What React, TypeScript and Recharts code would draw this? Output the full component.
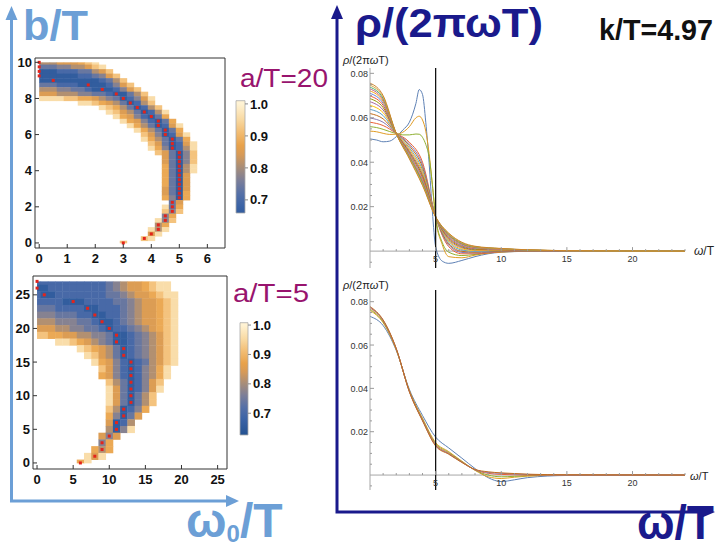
import React from 'react';
import {
  ScatterChart,
  Scatter,
  LineChart,
  Line,
  ComposedChart,
  XAxis,
  YAxis,
  ReferenceArea,
  ReferenceLine,
} from 'recharts';

const FONT = '"Liberation Sans", Arial, Helvetica, sans-serif';
const LIGHT_BLUE = '#6c9fd6';
const NAVY = '#1a1a8c';
const MAGENTA = '#98146e';

// fidelity value for each code digit used in the heatmap rows
const LEVELS = [0.66, 0.7, 0.74, 0.77, 0.81, 0.85, 0.88, 0.92, 0.96, 1.0];

// heatmap a/T=20: [b/T, first w0/T, codes per 0.25 step]
const MAP20_ROWS: [number, number, string][] = [
  [10, 0, '444555678'],
  [9.75, 0, '2223344578'],
  [9.5, 0, '00011122457'],
  [9.25, 0, '000000112357'],
  [9.0, 0, '0000000001247'],
  [8.75, 0, '22211100001357'],
  [8.5, 0, '444332210001357'],
  [8.25, 0, '5554443322100247'],
  [8.0, 0, '88887766543201358'],
  [7.75, 1.5, '88765420147'],
  [7.5, 2.25, '876420147'],
  [7.25, 2.5, '875420148'],
  [7.0, 2.75, '86531026'],
  [6.75, 3.0, '86531026'],
  [6.5, 3.25, '86420158'],
  [6.25, 3.5, '8642026'],
  [6.0, 3.75, '7530158'],
  [5.75, 3.75, '8642026'],
  [5.5, 4.0, '7520158'],
  [5.25, 4.0, '8630148'],
  [5.0, 4.25, '752037'],
  [4.75, 4.5, '52037'],
  [4.5, 4.5, '52037'],
  [4.25, 4.5, '62048'],
  [4.0, 4.5, '62048'],
  [3.75, 4.5, '6205'],
  [3.5, 4.5, '6205'],
  [3.25, 4.5, '6205'],
  [3.0, 4.5, '5205'],
  [2.75, 4.5, '5206'],
  [2.5, 4.5, '6306'],
  [2.25, 4.75, '25'],
  [2.0, 4.5, '826'],
  [1.75, 4.5, '737'],
  [1.5, 4.5, '36'],
  [1.25, 4.25, '837'],
  [1.0, 4.25, '46'],
  [0.75, 4.0, '848'],
  [0.5, 4.0, '58'],
  [0.25, 3.75, '78'],
  [0, 3.0, '7'],
];

const MAP20_PEAKS: [number, number][] = [
  [0, 10], [0, 9.75], [0, 9.5], [0, 9.25], [0.5, 9], [1.75, 8.75], [2.25, 8.5],
  [2.75, 8.25], [3, 8], [3.25, 7.75], [3.5, 7.5], [3.75, 7.25], [4, 7], [4.25, 6.75],
  [4.25, 6.5], [4.5, 6.25], [4.5, 6], [4.75, 5.75], [4.75, 5.5], [4.75, 5.25], [5, 5],
  [5, 4.75], [5, 4.5], [5, 4.25], [5, 4], [5, 3.75], [5, 3.5], [5, 3.25], [5, 3],
  [5, 2.75], [5, 2.5], [4.75, 2.25], [4.75, 2], [4.75, 1.75], [4.5, 1.5], [4.5, 1.25],
  [4.25, 1], [4.25, 0.75], [4, 0.5], [3.75, 0.25], [3, 0],
];

// heatmap a/T=5: [b/T, first w0/T, codes per 1.0 step]
const MAP5_ROWS: [number, number, string][] = [
  [27, 0, '1111111111234556788'],
  [26, 0, '0011111111234556788'],
  [25, 0, '10011111112234556788'],
  [24, 0, '11110001111223455678'],
  [23, 0, '22211110011123455678'],
  [22, 0, '33322211001123455678'],
  [21, 0, '44433322100123455678'],
  [20, 0, '55544332210112345678'],
  [19, 0, '77665544332001234578'],
  [18, 3, '88765432001234578'],
  [17, 6, '87654201234578'],
  [16, 7, '8754201234578'],
  [15, 8, '865310124578'],
  [14, 9, '7531013468'],
  [13, 9, '6531013468'],
  [12, 10, '74201357'],
  [11, 10, '85201358'],
  [10, 10, '8520247'],
  [9, 10, '8520247'],
  [8, 10, '740136'],
  [7, 10, '63025'],
  [6, 10, '5014'],
  [5, 10, '4038'],
  [4, 9, '535'],
  [3, 9, '36'],
  [2, 8, '646'],
  [1, 7, '858'],
  [0, 6, '68'],
];

const MAP5_PEAKS: [number, number][] = [
  [0, 27], [0, 26], [1, 25], [5, 24], [7, 23], [8, 22], [9, 21], [10, 20], [11, 19],
  [11, 18], [12, 17], [12, 16], [13, 15], [13, 14], [13, 13], [13, 12], [13, 11],
  [13, 10], [13, 9], [12, 8], [12, 7], [11, 6], [11, 5], [10, 4], [9, 3], [9, 2],
  [8, 1], [6, 0],
];

// colour scale of the density plots
const COLOR_STOPS: [number, string][] = [
  [0.62, '#21508f'],
  [0.68, '#3b63a6'],
  [0.72, '#5570a7'],
  [0.76, '#7b7e99'],
  [0.8, '#a68d7a'],
  [0.84, '#d69a58'],
  [0.87, '#e8a24b'],
  [0.91, '#f2bc72'],
  [0.95, '#f8d8a0'],
  [1.0, '#fff3d4'],
];

// spectral functions, k/T = 4.97
const X_SHARP = [0, 0.5, 1, 1.5, 2, 2.5, 3, 3.5, 3.75, 4, 4.25, 4.5, 4.75, 5, 5.5, 6, 7, 8, 9, 10, 12, 15, 24];
const TOP_BLUE = [0.0505, 0.05, 0.0492, 0.0495, 0.0515, 0.0545, 0.058, 0.0665, 0.0727, 0.0705, 0.058, 0.04, 0.018, 0.002, -0.0045, -0.0055, -0.0042, -0.0025, -0.0012, -0.0005, -0.0001, 0, 0];
const TOP_ORANGE = [0.054, 0.0537, 0.053, 0.0525, 0.0526, 0.0535, 0.056, 0.06, 0.0607, 0.059, 0.054, 0.044, 0.03, 0.015, 0.003, -0.0025, -0.003, -0.0018, -0.0009, -0.0004, -0.0001, 0, 0];
const TOP_GREEN = [0.056, 0.0556, 0.0548, 0.0538, 0.0529, 0.0523, 0.0523, 0.0527, 0.0526, 0.0512, 0.048, 0.0425, 0.03, 0.0155, 0.004, -0.0005, -0.002, -0.0015, -0.0008, -0.0003, 0, 0, 0];

const X_SMOOTH = [0, 1, 2, 3, 4, 5, 6, 7, 8, 10, 12, 15, 24];
const TOP_SMOOTH = [
  [0.058, 0.0565, 0.053, 0.049, 0.04, 0.0155, 0.002, -0.0012, -0.0012, -0.0003, 0, 0, 0],
  [0.0599, 0.058, 0.053, 0.0482, 0.0388, 0.0155, 0.0027, -0.0006, -0.0008, -0.0001, 0.0001, 0, 0],
  [0.0619, 0.0595, 0.053, 0.0474, 0.0377, 0.0155, 0.0033, -0.0001, -0.0005, 0, 0.0001, 0, 0],
  [0.0638, 0.061, 0.053, 0.0465, 0.0365, 0.0155, 0.004, 0.0005, -0.0001, 0.0002, 0.0002, 0.0001, 0],
  [0.0656, 0.0623, 0.053, 0.0458, 0.0355, 0.0155, 0.0046, 0.001, 0.0003, 0.0003, 0.0003, 0.0001, 0],
  [0.0672, 0.0635, 0.053, 0.0451, 0.0345, 0.0155, 0.0052, 0.0015, 0.0006, 0.0005, 0.0003, 0.0001, 0],
  [0.0686, 0.0646, 0.053, 0.0445, 0.0337, 0.0155, 0.0057, 0.0019, 0.0008, 0.0006, 0.0004, 0.0001, 0],
  [0.0698, 0.0656, 0.053, 0.044, 0.033, 0.0155, 0.0061, 0.0023, 0.0011, 0.0007, 0.0004, 0.0001, 0],
  [0.071, 0.0665, 0.0529, 0.0435, 0.0322, 0.0154, 0.0065, 0.0026, 0.0013, 0.0008, 0.0004, 0.0001, 0],
  [0.0721, 0.0673, 0.0529, 0.043, 0.0316, 0.0154, 0.0069, 0.003, 0.0015, 0.0009, 0.0005, 0.0002, 0],
  [0.073, 0.068, 0.0529, 0.0426, 0.0311, 0.0154, 0.0072, 0.0032, 0.0017, 0.001, 0.0005, 0.0002, 0],
  [0.0738, 0.0687, 0.0529, 0.0423, 0.0306, 0.0154, 0.0075, 0.0035, 0.0019, 0.0011, 0.0005, 0.0002, 0],
  [0.0747, 0.0693, 0.0529, 0.0419, 0.03, 0.0154, 0.0078, 0.0037, 0.002, 0.0011, 0.0006, 0.0002, 0],
  [0.0756, 0.07, 0.0529, 0.0415, 0.0295, 0.0154, 0.0081, 0.004, 0.0022, 0.0012, 0.0006, 0.0002, 0],
];
const TOP_SMOOTH_COLORS = [
  '#EB6235', '#8778B3', '#C56E1A', '#5D9EC7', '#FFBF00', '#A5609D', '#929600',
  '#E95536', '#6685D9', '#F89F13', '#BC5B80', '#47B66D', '#D9A33A', '#CB842C',
];

const X_BOTTOM = [0, 1, 2, 3, 4, 5, 6, 7, 8, 9, 10, 11, 12, 15, 24];
const BOTTOM_SERIES = [
  [0.0732, 0.069, 0.0575, 0.0395, 0.0275, 0.0175, 0.0125, 0.0078, 0.003, -0.0012, -0.003, -0.0022, -0.0012, -0.0002, 0],
  [0.076, 0.0703, 0.0578, 0.039, 0.0262, 0.015, 0.0108, 0.0064, 0.0022, -0.0008, -0.0016, -0.001, -0.0005, 0, 0],
  [0.0765, 0.0707, 0.058, 0.0388, 0.0258, 0.0145, 0.0104, 0.0062, 0.0023, 0, -0.0008, -0.0006, -0.0003, 0, 0],
  [0.0772, 0.0712, 0.0582, 0.0386, 0.0254, 0.014, 0.01, 0.006, 0.0024, 0.0008, 0.0003, 0.0001, 0, 0, 0],
  [0.0775, 0.0714, 0.0583, 0.0385, 0.0252, 0.0137, 0.0098, 0.0059, 0.0025, 0.0012, 0.0008, 0.0005, 0.0003, 0, 0],
  [0.0778, 0.0716, 0.0584, 0.0384, 0.025, 0.0134, 0.0096, 0.0058, 0.0026, 0.0015, 0.001, 0.0007, 0.0004, 0.0001, 0],
];
const BOTTOM_COLORS = ['#5E81B5', '#E19C24', '#8FB032', '#EB6235', '#8778B3', '#C56E1A'];

const X_TICKS = [1, 2, 3, 4, 5, 6, 7, 8, 9, 10, 11, 12, 13, 14, 15, 16, 17, 18, 19, 20, 21, 22, 23, 24];
const Y_TICKS = [-0.005, 0.005, 0.01, 0.015, 0.02, 0.025, 0.03, 0.035, 0.04, 0.045, 0.05, 0.055, 0.06, 0.065, 0.07, 0.075, 0.08];

function hexToRgb(h: string) {
  const n = parseInt(h.slice(1), 16);
  return [(n >> 16) & 255, (n >> 8) & 255, n & 255];
}

function colorFor(v: number) {
  if (v <= COLOR_STOPS[0][0]) return COLOR_STOPS[0][1];
  for (let i = 1; i < COLOR_STOPS.length; i++) {
    const [v1, c1] = COLOR_STOPS[i];
    if (v <= v1) {
      const [v0, c0] = COLOR_STOPS[i - 1];
      const t = (v - v0) / (v1 - v0);
      const a = hexToRgb(c0);
      const b = hexToRgb(c1);
      const m = a.map((x, k) => Math.round(x + (b[k] - x) * t));
      return `rgb(${m[0]},${m[1]},${m[2]})`;
    }
  }
  return COLOR_STOPS[COLOR_STOPS.length - 1][1];
}

// frame ticks point inward, Mathematica style
const heatTickY = (p: any) => (
  <g>
    <line x1={p.x} x2={p.x + 4} y1={p.y} y2={p.y} stroke="#333" />
    <text x={p.x - 3} y={p.y + 4.5} textAnchor="end" fontSize={13} fontWeight="bold" fill="#111" fontFamily={FONT}>
      {p.payload.value}
    </text>
  </g>
);

const heatTickX = (p: any) => (
  <g>
    <line x1={p.x} x2={p.x} y1={p.y} y2={p.y - 4} stroke="#333" />
    <text x={p.x} y={p.y + 15} textAnchor="middle" fontSize={13} fontWeight="bold" fill="#111" fontFamily={FONT}>
      {p.payload.value}
    </text>
  </g>
);

function Heatmap(props: any) {
  const { left, top, width, height, margin, yAxisWidth, xAxisHeight, rows, step, bMax, peaks, xDomain, yDomain, xTicks, yTicks } = props;

  const cells = rows.flatMap(([b, start, codes]: [number, number, string]) =>
    codes.split('').map((c, i) => ({ w: start + i * step, b, v: LEVELS[Number(c)] }))
  );
  const peakData = peaks.map(([w, b]: [number, number]) => ({ w, b }));

  // pixel size of one cell, from plot size and axis domain
  const plotW = width - margin.left - margin.right - yAxisWidth;
  const plotH = height - margin.top - margin.bottom - xAxisHeight;
  const cw = (plotW / (xDomain[1] - xDomain[0])) * step;
  const ch = (plotH / (yDomain[1] - yDomain[0])) * step;

  const renderCell = (p: any) => {
    const { cx, cy, payload } = p;
    const x0 = payload.w === 0 ? cx : cx - cw / 2;
    const x1 = cx + cw / 2;
    const y0 = payload.b === bMax ? cy : cy - ch / 2;
    const y1 = payload.b === 0 ? cy : cy + ch / 2;
    return <rect x={x0} y={y0} width={x1 - x0 + 0.4} height={y1 - y0 + 0.4} fill={colorFor(payload.v)} />;
  };

  const renderPeak = (p: any) => <rect x={p.cx - 1.5} y={p.cy - 1.5} width={3} height={3} fill="#e3241b" />;

  return (
    <div style={{ position: 'absolute', left, top }}>
      <ScatterChart width={width} height={height} margin={margin}>
        <XAxis
          type="number"
          dataKey="w"
          domain={xDomain}
          allowDataOverflow
          ticks={xTicks}
          interval={0}
          tick={heatTickX}
          tickSize={0}
          tickMargin={0}
          tickLine={false}
          axisLine={false}
          height={xAxisHeight}
        />
        <YAxis
          type="number"
          dataKey="b"
          domain={yDomain}
          allowDataOverflow
          ticks={yTicks}
          interval={0}
          tick={heatTickY}
          tickSize={0}
          tickMargin={0}
          tickLine={false}
          axisLine={false}
          width={yAxisWidth}
        />
        <Scatter data={cells} shape={renderCell} isAnimationActive={false} />
        <Scatter data={peakData} shape={renderPeak} isAnimationActive={false} />
        <ReferenceArea
          x1={xDomain[0]}
          x2={xDomain[1]}
          y1={yDomain[0]}
          y2={yDomain[1]}
          fill="none"
          stroke="#333"
          strokeWidth={1}
          ifOverflow="visible"
        />
      </ScatterChart>
    </div>
  );
}

function ColorBar({ id, left, top, domain, barWidth }: any) {
  const [d0, d1] = domain;
  const stopValues = [d0, ...COLOR_STOPS.map((s) => s[0]).filter((v) => v > d0 && v < d1), d1];
  const W = 50;
  return (
    <div style={{ position: 'absolute', left, top }}>
      <ComposedChart width={W} height={135} margin={{ top: 10.7, right: 0, bottom: 12, left: 6 }} data={[{ x: 0 }, { x: 1 }]}>
        <defs>
          <linearGradient id={id} x1="0" y1="1" x2="0" y2="0">
            {stopValues.map((v) => (
              <stop key={v} offset={(v - d0) / (d1 - d0)} stopColor={colorFor(v)} />
            ))}
          </linearGradient>
        </defs>
        <XAxis type="number" dataKey="x" domain={[0, 1]} hide />
        <YAxis
          type="number"
          orientation="right"
          domain={domain}
          allowDataOverflow
          ticks={[0.7, 0.8, 0.9, 1.0]}
          interval={0}
          tickFormatter={(v: number) => v.toFixed(1)}
          tick={{ fontSize: 13, fontWeight: 'bold', fill: '#111', fontFamily: FONT }}
          tickSize={3}
          tickMargin={2}
          tickLine={{ stroke: '#888' }}
          axisLine={false}
          width={W - 6 - barWidth}
        />
        <ReferenceArea x1={0} x2={1} y1={d0} y2={d1} fill={`url(#${id})`} fillOpacity={1} stroke="#aaa" strokeWidth={0.8} />
      </ComposedChart>
    </div>
  );
}

function SpectrumPanel({ top, yDomain, series }: any) {
  const W = 387;
  const H = 230;
  const YW = 40;
  const XH = 12;
  const margin = { top: 18, right: 32, bottom: 0, left: 0 };
  const plotH = H - margin.top - margin.bottom - XH;
  // distance from plot bottom up to the y = 0 axis
  const zeroOffset = (plotH * (0 - yDomain[0])) / (yDomain[1] - yDomain[0]);

  const xTick = (p: any) => {
    const v = p.payload.value;
    const major = v % 5 === 0;
    const y0 = p.y - zeroOffset;
    return (
      <g>
        <line x1={p.x} x2={p.x} y1={y0} y2={y0 - (major ? 4 : 2)} stroke="#9a9a9a" />
        {major && (
          <text x={p.x} y={y0 + 11} textAnchor="middle" fontSize={9} fill="#333" fontFamily={FONT}>
            {v}
          </text>
        )}
      </g>
    );
  };

  const yTick = (p: any) => {
    const v = p.payload.value;
    const major = v > 0 && Math.abs(v * 50 - Math.round(v * 50)) < 1e-6;
    return (
      <g>
        <line x1={p.x} x2={p.x + (major ? 4 : 2)} y1={p.y} y2={p.y} stroke="#9a9a9a" />
        {major && (
          <text x={p.x - 2} y={p.y + 3.5} textAnchor="end" fontSize={9} fill="#333" fontFamily={FONT}>
            {v.toFixed(2)}
          </text>
        )}
      </g>
    );
  };

  return (
    <div style={{ position: 'absolute', left: 330, top }}>
      <LineChart width={W} height={H} margin={margin}>
        <XAxis
          type="number"
          dataKey="x"
          domain={[0, 24]}
          allowDataOverflow
          ticks={X_TICKS}
          interval={0}
          tick={xTick}
          tickSize={0}
          tickMargin={0}
          tickLine={false}
          axisLine={false}
          height={XH}
        />
        <YAxis
          type="number"
          domain={yDomain}
          allowDataOverflow
          ticks={Y_TICKS}
          interval={0}
          tick={yTick}
          tickSize={0}
          tickMargin={0}
          tickLine={false}
          axisLine={{ stroke: '#a6a6a6' }}
          width={YW}
        />
        <ReferenceLine y={0} stroke="#a6a6a6" />
        {series.map((s: any, i: number) => (
          <Line
            key={i}
            data={s.xs.map((x: number, j: number) => ({ x, y: s.ys[j] }))}
            dataKey="y"
            type="monotone"
            stroke={s.color}
            strokeWidth={1}
            dot={false}
            isAnimationActive={false}
          />
        ))}
        <ReferenceLine x={5} stroke="#111" strokeWidth={1.3} />
      </LineChart>
    </div>
  );
}

export default function App() {
  const topSeries = [
    { xs: X_SHARP, ys: TOP_BLUE, color: '#5E81B5' },
    { xs: X_SHARP, ys: TOP_ORANGE, color: '#E19C24' },
    { xs: X_SHARP, ys: TOP_GREEN, color: '#8FB032' },
    ...TOP_SMOOTH.map((ys, i) => ({ xs: X_SMOOTH, ys, color: TOP_SMOOTH_COLORS[i] })),
  ];
  const bottomSeries = BOTTOM_SERIES.map((ys, i) => ({ xs: X_BOTTOM, ys, color: BOTTOM_COLORS[i] }));

  return (
    <div
      style={{
        position: 'absolute',
        left: 0,
        top: 0,
        width: 717,
        height: 544,
        background: '#fff',
        overflow: 'hidden',
        fontFamily: FONT,
      }}
    >
      <Heatmap
        left={0}
        top={40}
        width={240}
        height={230}
        margin={{ top: 18, right: 15, bottom: 0, left: 0 }}
        yAxisWidth={35}
        xAxisHeight={22}
        rows={MAP20_ROWS}
        step={0.25}
        bMax={10}
        peaks={MAP20_PEAKS}
        xDomain={[-0.15, 6.63]}
        yDomain={[-0.28, 10.24]}
        xTicks={[0, 1, 2, 3, 4, 5, 6]}
        yTicks={[0, 2, 4, 6, 8, 10]}
      />
      <Heatmap
        left={0}
        top={260}
        width={240}
        height={240}
        margin={{ top: 16, right: 13, bottom: 0, left: 0 }}
        yAxisWidth={33}
        xAxisHeight={31}
        rows={MAP5_ROWS}
        step={1}
        bMax={27}
        peaks={MAP5_PEAKS}
        xDomain={[-0.56, 26.3]}
        yDomain={[-0.9, 27.8]}
        xTicks={[0, 5, 10, 15, 20, 25]}
        yTicks={[0, 5, 10, 15, 20, 25]}
      />
      <ColorBar id="cbar20" left={230} top={90} domain={[0.659, 1.01]} barWidth={9} />
      <ColorBar id="cbar5" left={234} top={312} domain={[0.626, 1.008]} barWidth={8} />

      <SpectrumPanel top={50} yDomain={[-0.0076, 0.0824]} series={topSeries} />
      <SpectrumPanel top={272} yDomain={[-0.0069, 0.0854]} series={bottomSeries} />

      <svg width={717} height={544} style={{ position: 'absolute', left: 0, top: 0, pointerEvents: 'none' }}>
        {/* light blue axes of the left panels */}
        <polyline points="11.5,18 11.5,501 228,501" fill="none" stroke={LIGHT_BLUE} strokeWidth={3} />
        <polygon points="11.5,6 5.5,20 17.5,20" fill={LIGHT_BLUE} />
        <polygon points="239,501 226,495 226,507" fill={LIGHT_BLUE} />
        <text x={23} y={39.5} fontSize={43} fontWeight="bold" fill={LIGHT_BLUE} fontFamily={FONT} textLength={65} lengthAdjust="spacingAndGlyphs">
          b/T
        </text>
        <text x={186} y={537} fontSize={48} fontWeight="bold" fill={LIGHT_BLUE} fontFamily={FONT}>
          ω<tspan fontSize={24} dy={5}>0</tspan>
          <tspan dy={-5}>/T</tspan>
        </text>
        <text x={240} y={87} fontSize={26} fill={MAGENTA} fontFamily={FONT} textLength={88} lengthAdjust="spacingAndGlyphs">
          a/T=20
        </text>
        <text x={233} y={302} fontSize={26} fill={MAGENTA} fontFamily={FONT} textLength={76} lengthAdjust="spacingAndGlyphs">
          a/T=5
        </text>

        {/* navy axes of the right panels */}
        <polyline points="337,18 337,512 702,512" fill="none" stroke={NAVY} strokeWidth={3} />
        <polygon points="337,5 331,19 343,19" fill={NAVY} />
        <polygon points="715,512 701,506 701,518" fill={NAVY} />
        <text x={355} y={37} fontSize={40} fontWeight="bold" fill={NAVY} fontFamily={FONT} textLength={188} lengthAdjust="spacingAndGlyphs">
          ρ/(2πωT)
        </text>
        <text x={599} y={40} fontSize={29} fontWeight="bold" fill="#111" fontFamily={FONT} textLength={114} lengthAdjust="spacingAndGlyphs">
          k/T=4.97
        </text>
        <text x={637} y={539} fontSize={48} fontWeight="bold" fill={NAVY} fontFamily={FONT} textLength={77} lengthAdjust="spacingAndGlyphs">
          ω/T
        </text>

        {/* small axis labels of the spectral plots */}
        <text x={343} y={64} fontSize={11} fill="#222" fontFamily={FONT}>
          <tspan fontStyle="italic">ρ</tspan>/(2π<tspan fontStyle="italic">ω</tspan>T)
        </text>
        <text x={343} y={289} fontSize={11} fill="#222" fontFamily={FONT}>
          <tspan fontStyle="italic">ρ</tspan>/(2π<tspan fontStyle="italic">ω</tspan>T)
        </text>
        <text x={694} y={255} fontSize={12} fill="#222" fontFamily={FONT}>
          <tspan fontStyle="italic">ω</tspan>/T
        </text>
        <text x={690} y={480} fontSize={11} fill="#222" fontFamily={FONT}>
          <tspan fontStyle="italic">ω</tspan>/T
        </text>
      </svg>
    </div>
  );
}
